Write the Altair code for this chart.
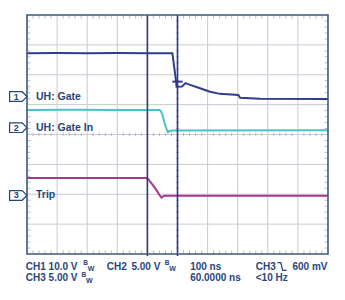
import altair as alt
import pandas as pd

# ---- data (divisions: x 0..10, y 0..8) ----
ch1_x = [0, 1.0, 2.0, 3.0, 4.0, 4.83, 4.94, 4.97, 5.15, 5.27, 5.42, 5.75, 6.08, 6.41, 7.02, 7.08, 7.74, 10]
ch1_y = [6.72, 6.73, 6.72, 6.73, 6.72, 6.72, 5.88, 5.60, 5.61, 5.72, 5.66, 5.55, 5.43, 5.36, 5.32, 5.23, 5.20, 5.19]
ch1_dash_x = [4.83, 5.17]
ch1_dash_y = [5.77, 5.77]
ch2_x = [0, 1.5, 3.0, 4.40, 4.45, 4.50, 4.56, 4.62, 4.68, 4.72, 4.80, 10]
ch2_y = [4.82, 4.83, 4.82, 4.82, 4.78, 4.65, 4.42, 4.22, 4.08, 4.10, 4.13, 4.14]
ch3_x = [0, 2.0, 3.98, 4.05, 4.15, 4.28, 4.40, 4.47, 4.55, 10]
ch3_y = [2.54, 2.54, 2.54, 2.48, 2.35, 2.17, 1.98, 1.89, 1.95, 1.95]
cursor_x = [4.0, 5.0]

marker_nums = ["1", "2", "3"]
marker_y = [5.27, 4.23, 1.96]
label_texts = ["UH: Gate", "UH: Gate In", "Trip"]

bottom_texts = ["CH1 10.0 V", "CH2", "5.00 V", "100 ns", "CH3", "600 mV",
                "CH3 5.00 V", "60.0000 ns", "<10 Hz"]
bottom_x = [-0.04, 2.65, 3.47, 5.42, 7.6, 8.82, -0.04, 5.42, 7.6]
bottom_y = [-0.42, -0.42, -0.42, -0.42, -0.42, -0.42, -0.81, -0.81, -0.81]
bw_x = [1.87, 4.58, 1.81]
bw_y = [-0.42, -0.42, -0.81]
edge_x = [8.47]
edge_y = [-0.42]

grid_x = [1, 2, 3, 4, 6, 7, 8, 9]
grid_y = [1, 2, 3, 4, 5, 6, 7]

NAVY = "#27457a"
xs = alt.Scale(domain=[0, 10], nice=False, zero=False)
ys = alt.Scale(domain=[0, 8], nice=False, zero=False)

def X(f="x"):
    return alt.X(f"{f}:Q", scale=xs, axis=None)

def Y(f="y"):
    return alt.Y(f"{f}:Q", scale=ys, axis=None)

# grid
gx = alt.Chart(pd.DataFrame({"x": grid_x, "y0": 0, "y1": 8})).mark_rule(color="#c9c9d6", strokeWidth=1).encode(
    x=X(), y=Y("y0"), y2="y1:Q")
gy = alt.Chart(pd.DataFrame({"y": grid_y, "x0": 0, "x1": 10})).mark_rule(color="#c9c9d6", strokeWidth=1).encode(
    y=Y(), x=X("x0"), x2="x1:Q")

# minor ticks
tick_pos = [i * 0.2 for i in range(1, 50) if i % 5 != 0]
tick_pos_y = [i * 0.2 for i in range(1, 40) if i % 5 != 0]
tx_rows = []
for t in tick_pos:
    for yy in [7.93, 0.07, 4.0]:
        tx_rows.append({"x": t, "y": yy})
ty_rows = []
for t in tick_pos_y:
    for xx in [0.06, 9.94, 5.0]:
        ty_rows.append({"x": xx, "y": t})
ticks_v = alt.Chart(pd.DataFrame(tx_rows)).mark_tick(orient="vertical", size=3.5, thickness=1, color="#9ea4bd").encode(x=X(), y=Y())
ticks_h = alt.Chart(pd.DataFrame(ty_rows)).mark_tick(orient="horizontal", size=3.5, thickness=1, color="#9ea4bd").encode(x=X(), y=Y())

# traces
def trace(xv, yv, color):
    df = pd.DataFrame({"x": xv, "y": yv, "o": list(range(len(xv)))})
    return alt.Chart(df).mark_line(color=color, strokeWidth=2).encode(x=X(), y=Y(), order="o:Q")

t1 = trace(ch1_x, ch1_y, "#2f3d8c")
t1d = trace(ch1_dash_x, ch1_dash_y, "#2f3d8c")
t2 = trace(ch2_x, ch2_y, "#48c2cb")
t3 = trace(ch3_x, ch3_y, "#a9378b")

# cursors
cur = alt.Chart(pd.DataFrame({"x": cursor_x, "y0": -0.07, "y1": 8})).mark_rule(color="#2e3778", strokeWidth=1.6).encode(
    x=X(), y=Y("y0"), y2="y1:Q")

# border
border = alt.Chart(pd.DataFrame({"x": [0], "x2": [10], "y": [0], "y2": [8]})).mark_rect(
    fill="transparent", stroke="#3f5878", strokeWidth=1.6).encode(x=X(), x2="x2:Q", y=Y(), y2="y2:Q")

# channel markers
mdf = pd.DataFrame({"n": marker_nums, "y": marker_y, "t": label_texts,
                    "xm": [-0.29] * 3, "xn": [-0.36] * 3, "xl": [0.3] * 3})
box = alt.Chart(mdf).mark_point(
    shape="M-1,-0.56 L0.45,-0.56 L1,0 L0.45,0.56 L-1,0.56 Z",
    size=300, filled=True, fill="white", stroke=NAVY, strokeWidth=1.2, opacity=1).encode(
    x=X("xm"), y=Y())
num = alt.Chart(mdf).mark_text(font="Liberation Sans", fontSize=9, fontWeight="bold", color=NAVY,
                               baseline="middle", align="center").encode(x=X("xn"), y=Y(), text="n:N")
lab = alt.Chart(mdf).mark_text(font="Liberation Sans", fontSize=10.5, fontWeight="bold", color=NAVY,
                               baseline="middle", align="left").encode(x=X("xl"), y=Y(), text="t:N")

# bottom settings text
bdf = pd.DataFrame({"x": bottom_x, "y": bottom_y, "t": bottom_texts})
btxt = alt.Chart(bdf).mark_text(font="Liberation Sans", fontSize=10, fontWeight="bold", color=NAVY,
                                baseline="middle", align="left").encode(x=X(), y=Y(), text="t:N")
bwdf = pd.DataFrame({"x": bw_x, "y": [v + 0.11 for v in bw_y], "x2": [v + 0.15 for v in bw_x],
                     "y2": [v - 0.09 for v in bw_y]})
bB = alt.Chart(bwdf).mark_text(text="B", font="Liberation Sans", fontSize=6.5, fontWeight="bold",
                               color=NAVY, baseline="middle", align="left").encode(x=X(), y=Y())
bW = alt.Chart(bwdf).mark_text(text="W", font="Liberation Sans", fontSize=7, fontWeight="bold",
                               color=NAVY, baseline="middle", align="left").encode(x=X("x2"), y=Y("y2"))
edge = alt.Chart(pd.DataFrame({"x": edge_x, "y": edge_y})).mark_point(
    shape="M-1,-0.85 L-0.25,-0.85 L0.15,0.85 L1,0.85", size=85, filled=False, stroke=NAVY,
    strokeWidth=1.3, opacity=1).encode(x=X(), y=Y())

chart = alt.layer(gx, gy, ticks_v, ticks_h, t3, t2, t1, t1d, cur, border, box, num, lab,
                  btxt, bB, bW, edge).properties(
    width=301, height=239, autosize="none",
    padding={"left": 27, "top": 15, "right": 17, "bottom": 46},
    background="white",
).configure_view(stroke=None)

chart.save("out.html", embed_options={"renderer": "svg", "actions": False})
